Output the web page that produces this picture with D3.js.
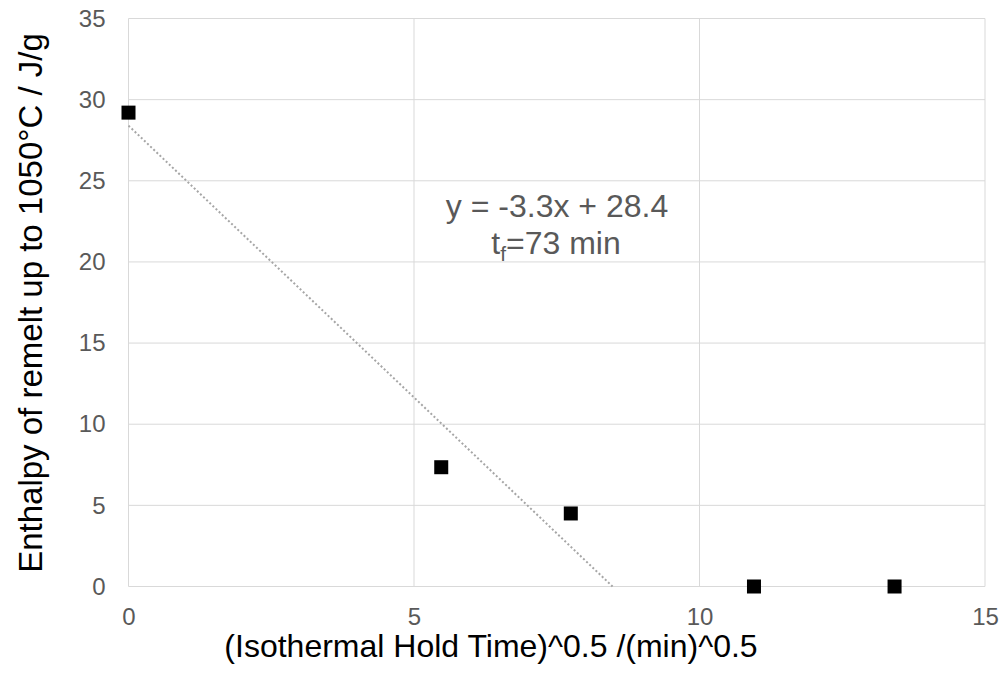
<!DOCTYPE html>
<html>
<head>
<meta charset="utf-8">
<title>Enthalpy of remelt</title>
<script src="https://cdnjs.cloudflare.com/ajax/libs/d3/7.8.5/d3.min.js"></script>
<style>
body { margin: 0; background: #fff; }
text { font-family: Arial, "Liberation Sans", sans-serif; }
.tick text { fill: #595959; font-size: 24px; }
.grid line { stroke: #d9d9d9; stroke-width: 1; }
.axis-title { fill: #000; font-size: 32px; }
.note { fill: #595959; font-size: 32px; }
</style>
</head>
<body>
<div id="chart"></div>
<script>
// sqrt of hold time (min^0.5) and remelt enthalpy (J/g)
var holdSqrt = [0, 5.477, 7.746, 10.954, 13.416];
var enthalpy = [29.2, 7.35, 4.5, 0, 0];
var xTicks = [0, 5, 10, 15];
var yTicks = [0, 5, 10, 15, 20, 25, 30, 35];
// linear trendline shown in the chart
var trendSlope = -3.35;
var trendIntercept = 28.4;

var width = 1006, height = 676;
var margin = {left: 128.5, right: 21, top: 18.5, bottom: 89.5};

var svg = d3.select("#chart").append("svg")
  .attr("width", width)
  .attr("height", height);

var x = d3.scaleLinear().domain([0, 15]).range([margin.left, width - margin.right]);
var y = d3.scaleLinear().domain([0, 35]).range([height - margin.bottom, margin.top]);

// grid
var grid = svg.append("g").attr("class", "grid");
grid.selectAll(".gy").data(yTicks).enter().append("line")
  .attr("x1", x(0)).attr("x2", x(15))
  .attr("y1", d => y(d)).attr("y2", d => y(d));
grid.selectAll(".gx").data(xTicks).enter().append("line")
  .attr("y1", y(0)).attr("y2", y(35))
  .attr("x1", d => x(d)).attr("x2", d => x(d));

// axes (labels only)
var yAxis = svg.append("g")
  .attr("transform", "translate(" + (x(0) - 13) + ",0)")
  .call(d3.axisLeft(y).tickValues(yTicks).tickSize(0).tickPadding(10));
yAxis.select(".domain").remove();

var xAxis = svg.append("g")
  .attr("transform", "translate(0," + (y(0) + 11) + ")")
  .call(d3.axisBottom(x).tickValues(xTicks).tickSize(0).tickPadding(10));
xAxis.select(".domain").remove();

// trendline
var xEnd = -trendIntercept / trendSlope;
svg.append("line")
  .attr("x1", x(0)).attr("y1", y(trendIntercept))
  .attr("x2", x(xEnd)).attr("y2", y(0))
  .attr("stroke", "#a6a6a6")
  .attr("stroke-width", 2)
  .attr("stroke-dasharray", "2,2.3");

// points
var pts = holdSqrt.map((v, i) => [v, enthalpy[i]]);
svg.selectAll(".pt").data(pts).enter().append("rect")
  .attr("x", d => x(d[0]) - 7)
  .attr("y", d => y(d[1]) - 7)
  .attr("width", 14).attr("height", 14)
  .attr("fill", "#000");

// annotation
svg.append("text").attr("class", "note")
  .attr("x", 557).attr("y", 217)
  .attr("text-anchor", "middle")
  .text("y = -3.3x + 28.4");
var t2 = svg.append("text").attr("class", "note")
  .attr("x", 556).attr("y", 254)
  .attr("text-anchor", "middle");
t2.append("tspan").text("t");
t2.append("tspan").attr("font-size", "21px").attr("dy", 7).text("f");
t2.append("tspan").attr("dy", -7).text("=73 min");

// axis titles
svg.append("text").attr("class", "axis-title")
  .attr("x", 491).attr("y", 657)
  .attr("text-anchor", "middle")
  .text("(Isothermal Hold Time)^0.5 /(min)^0.5");

svg.append("text").attr("class", "axis-title")
  .attr("transform", "translate(42,303) rotate(-90)")
  .attr("text-anchor", "middle")
  .attr("font-size", "33px")
  .style("font-size", "33px")
  .text("Enthalpy of remelt up to 1050°C / J/g");
</script>
</body>
</html>
